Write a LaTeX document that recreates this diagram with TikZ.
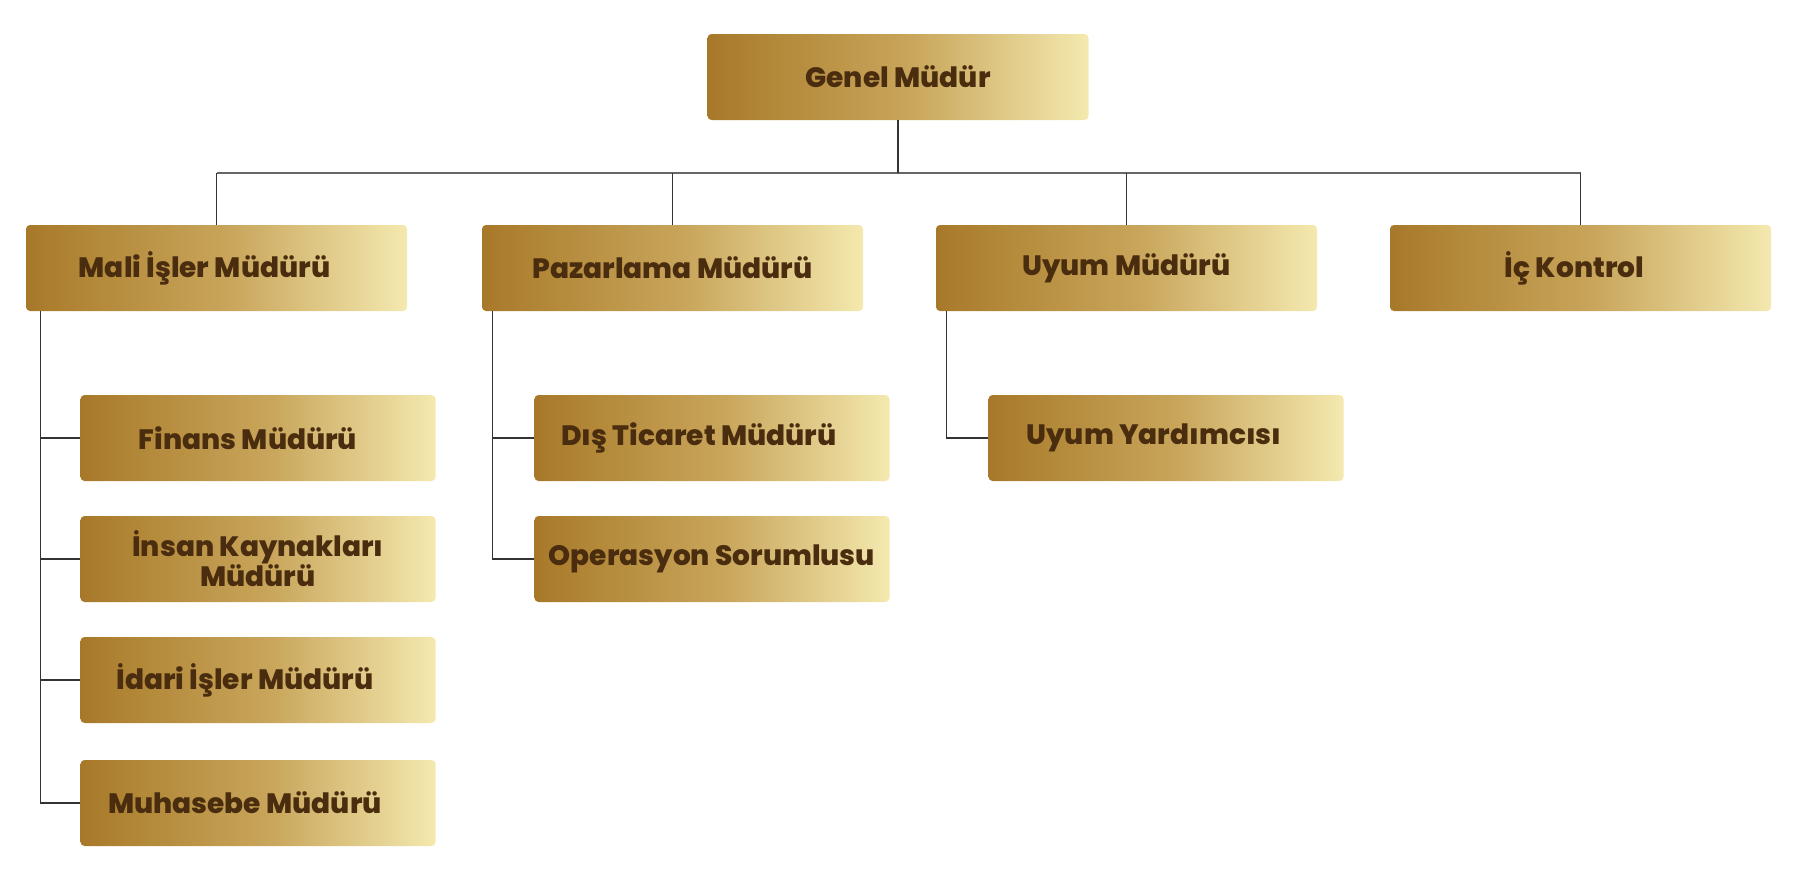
\documentclass[tikz,border=0pt]{standalone}
\usepackage{fontspec}
\setmainfont{Poppins}[BoldFont={Poppins ExtraBold}]
\definecolor{gA}{HTML}{A8782A}
\definecolor{gB}{HTML}{AE8232}
\definecolor{gC}{HTML}{C9A65C}
\definecolor{gD}{HTML}{F4E9AF}
\definecolor{txt}{HTML}{4A2C0E}
\definecolor{bar}{HTML}{666666}
\definecolor{ln}{HTML}{333333}
\pgfdeclarehorizontalshading{gold}{100bp}{color(0bp)=(gA); color(25bp)=(gA); color(30bp)=(gB); color(52bp)=(gC); color(75bp)=(gD); color(100bp)=(gD)}
\begin{document}
\begin{tikzpicture}[x=1pt,y=-1pt,
  box/.style={rectangle, rounded corners=4pt, shading=gold, minimum height=86pt, inner sep=0pt},
  topbox/.style={box, minimum width=381pt},
  subbox/.style={box, minimum width=355pt},
  lbl/.style={text=txt, font=\fontsize{28}{30}\selectfont\bfseries, align=center, inner sep=0pt},
  mainline/.style={draw=bar, line width=2pt},
  conn/.style={draw=ln, line width=1.3pt}]
\useasboundingbox (0,0) rectangle (1800,876);
% boxes
\node[topbox] (gen) at (898,77) {};
\node[topbox] (mali) at (216.5,268) {};
\node[topbox] (paz) at (672.5,268) {};
\node[topbox] (uyum) at (1126.5,268) {};
\node[topbox] (ic) at (1580.5,268) {};
\node[subbox] (fin) at (258,438) {};
\node[subbox] (ins) at (258,559) {};
\node[subbox] (ida) at (258,680) {};
\node[subbox] (muh) at (258,803) {};
\node[subbox] (dis) at (712,438) {};
\node[subbox] (ope) at (712,559) {};
\node[subbox] (yar) at (1166,438) {};
% labels
\node[lbl] (gen-t) at (gen.center) {Genel Müdür};
\node[lbl] (mali-t) at ([xshift=-12pt]mali.center) {Mali İşler Müdürü};
\node[lbl] (paz-t) at (paz.center) {Pazarlama Müdürü};
\node[lbl] (uyum-t) at (uyum.center) {Uyum Müdürü};
\node[lbl] (ic-t) at ([xshift=-6pt]ic.center) {İç Kontrol};
\node[lbl] (fin-t) at ([xshift=-10pt]fin.center) {Finans Müdürü};
\node[lbl] (ins-t) at (ins.center) {İnsan Kaynakları\\Müdürü};
\node[lbl] (ida-t) at ([xshift=-13pt]ida.center) {İdari İşler Müdürü};
\node[lbl] (muh-t) at ([xshift=-13pt]muh.center) {Muhasebe Müdürü};
\node[lbl] (dis-t) at ([xshift=-13pt]dis.center) {Dış Ticaret Müdürü};
\node[lbl] (ope-t) at (ope.center) {Operasyon Sorumlusu};
\node[lbl] (yar-t) at ([xshift=-12pt]yar.center) {Uyum Yardımcısı};
% top-level connectors
\coordinate (hub) at (898,173);
\draw[mainline] (mali.north |- hub) -- (ic.north |- hub);
\draw[conn] (gen.south) -- (hub);
\draw[conn] (mali.north |- hub) -- (mali.north);
\draw[conn] (paz.north |- hub) -- (paz.north);
\draw[conn] (uyum.north |- hub) -- (uyum.north);
\draw[conn] (ic.north |- hub) -- (ic.north);
% child connectors
\coordinate (busA) at ([xshift=14.5pt]mali.south west);
\coordinate (busB) at ([xshift=11pt]paz.south west);
\coordinate (busC) at ([xshift=11pt]uyum.south west);
\draw[conn] (busA) |- (muh.west);
\draw[conn] (fin.west) -- (fin.west -| busA);
\draw[conn] (ins.west) -- (ins.west -| busA);
\draw[conn] (ida.west) -- (ida.west -| busA);
\draw[conn] (busB) |- (ope.west);
\draw[conn] (dis.west) -- (dis.west -| busB);
\draw[conn] (busC) |- (yar.west);
\end{tikzpicture}
\end{document}
